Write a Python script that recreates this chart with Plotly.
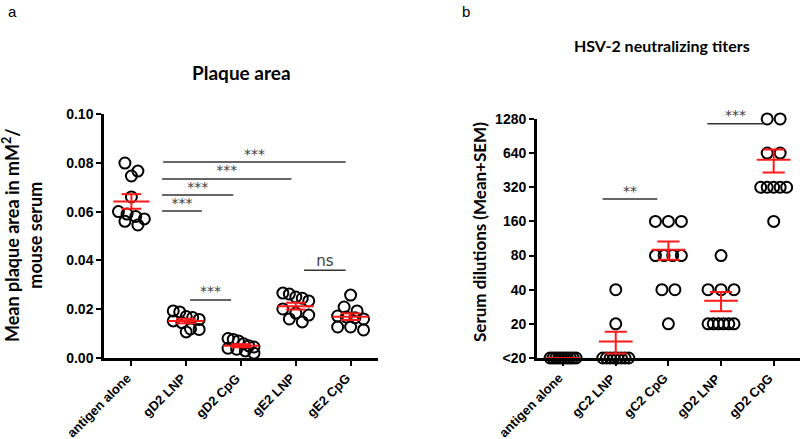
import numpy as np
import plotly.graph_objects as go

# ---------------- data ----------------
left_cats = ["antigen alone", "gD2 LNP", "gD2 CpG", "gE2 LNP", "gE2 CpG"]
area_antigen_alone = [0.0799, 0.0766, 0.0746, 0.0660, 0.0600, 0.0590, 0.0580, 0.0570, 0.0560, 0.0545]
area_gD2_LNP = [0.0193, 0.0189, 0.0170, 0.0166, 0.0158, 0.0152, 0.0145, 0.0119, 0.0117, 0.0107]
area_gD2_CpG = [0.0080, 0.0076, 0.0070, 0.0058, 0.0050, 0.0045, 0.0040, 0.0036, 0.0029, 0.0020]
area_gE2_LNP = [0.0266, 0.0262, 0.0250, 0.0245, 0.0234, 0.0201, 0.0184, 0.0176, 0.0160, 0.0148]
area_gE2_CpG = [0.0258, 0.0209, 0.0193, 0.0172, 0.0168, 0.0165, 0.0160, 0.0127, 0.0127, 0.0115]
left_groups = [area_antigen_alone, area_gD2_LNP, area_gD2_CpG, area_gE2_LNP, area_gE2_CpG]
left_ticks = [0.00, 0.02, 0.04, 0.06, 0.08, 0.10]

right_cats = ["antigen alone", "gC2 LNP", "gC2 CpG", "gD2 LNP", "gD2 CpG"]
BELOW = 10  # "<20" plotted at 10
titer_antigen_alone = [BELOW] * 10
titer_gC2_LNP = [40, 20] + [BELOW] * 8
titer_gC2_CpG = [160, 160, 160, 80, 80, 80, 80, 40, 40, 20]
titer_gD2_LNP = [80, 40, 40, 40, 20, 20, 20, 20, 20, 20]
titer_gD2_CpG = [1280, 1280, 640, 640, 320, 320, 320, 320, 320, 160]
right_groups = [titer_antigen_alone, titer_gC2_LNP, titer_gC2_CpG, titer_gD2_LNP, titer_gD2_CpG]
right_tickvals = [10, 20, 40, 80, 160, 320, 640, 1280]
right_ticktext = ["<20", "20", "40", "80", "160", "320", "640", "1280"]

# significance comparisons: (x start, x end, height, label)
left_sig = [(0.56, 1.285, 0.0602, "***"), (0.56, 1.86, 0.0668, "***"),
            (0.56, 2.92, 0.0734, "***"), (0.58, 3.91, 0.0803, "***"),
            (1.07, 1.82, 0.0238, "***"), (3.15, 3.91, 0.0360, "ns")]
right_sig = [(0.75, 1.79, 252, "**"), (2.74, 3.81, 1160, "***")]

# ---------------- helpers ----------------
def swarm(vals, ypx_per_unit, cat_px, log=False, diam=13.0, half=13.0, tol=9.0):
    v = np.log10(np.asarray(vals, float)) if log else np.asarray(vals, float)
    ypx = v * ypx_per_unit
    order = np.argsort(-ypx, kind="stable")
    rows = []
    for i in order:
        if rows and ypx[rows[-1][0]] - ypx[i] <= tol:
            rows[-1].append(i)
        else:
            rows.append([i])
    off = np.zeros(len(v))
    for r in rows:
        n = len(r)
        if n > 1:
            step = min(diam, 2 * half / (n - 1))
            for k, i in enumerate(r):
                off[i] = (k - (n - 1) / 2) * step
    return off / cat_px

fig = go.Figure()
RED = "#ff1a1a"
BLACK = "#000000"

def add_panel(groups, xa, ya, ypx_unit, cat_px, log, mean_half, cap_half):
    for gi, vals in enumerate(groups):
        off = swarm(vals, ypx_unit, cat_px, log=log)
        fig.add_trace(go.Scatter(
            x=gi + off, y=vals, mode="markers", xaxis=xa, yaxis=ya,
            marker=dict(symbol="circle-open", size=11, color=BLACK, line=dict(width=2, color=BLACK)),
            cliponaxis=False, showlegend=False, hoverinfo="skip"))
    for gi, vals in enumerate(groups):
        a = np.asarray(vals, float)
        m = a.mean()
        s = a.std(ddof=1) / np.sqrt(len(a))
        xs = [gi - mean_half, gi + mean_half, None, gi, gi, None,
              gi - cap_half, gi + cap_half, None, gi - cap_half, gi + cap_half]
        ys = [m, m, None, m - s, m + s, None, m + s, m + s, None, m - s, m - s]
        fig.add_trace(go.Scatter(x=xs, y=ys, mode="lines", xaxis=xa, yaxis=ya,
                                 line=dict(color=RED, width=2), cliponaxis=False,
                                 showlegend=False, hoverinfo="skip"))

add_panel(left_groups, "x", "y", 2440.0, 55.0, False, 0.33, 0.18)
add_panel(right_groups, "x2", "y2", 34 / np.log10(2), 52.75, True, 0.32, 0.21)

def add_sig(sigs, xa, ya):
    for x0, x1, h, lab in sigs:
        fig.add_trace(go.Scatter(x=[x0, x1], y=[h, h], mode="lines", xaxis=xa, yaxis=ya,
                                 line=dict(color="#333333", width=1.5),
                                 showlegend=False, hoverinfo="skip", cliponaxis=False))
        fig.add_trace(go.Scatter(x=[(x0 + x1) / 2], y=[h], mode="text", text=[lab],
                                 textposition="top center", xaxis=xa, yaxis=ya,
                                 textfont=dict(family="DejaVu Sans", size=15 if lab == "ns" else 14,
                                               color="#404040"),
                                 showlegend=False, hoverinfo="skip", cliponaxis=False))

add_sig(left_sig, "x", "y")
add_sig(right_sig, "x2", "y2")

FAM = "Arial, Liberation Sans, sans-serif"
tickfont = dict(family=FAM, size=14, color=BLACK, weight="bold")
catfont = dict(family=FAM, size=13, color=BLACK, weight="bold")
axis_common = dict(showline=True, linecolor=BLACK, linewidth=2.5, ticks="outside",
                   ticklen=5, tickwidth=2, tickcolor=BLACK, showgrid=False,
                   zeroline=False, automargin=False)

fig.update_layout(
    width=800, height=439, template="none",
    margin=dict(l=0, r=0, t=0, b=0),
    paper_bgcolor="white", plot_bgcolor="white", showlegend=False,
    xaxis=dict(domain=[0.13, 0.4725], range=[-0.5, 4.5], anchor="y",
               tickvals=list(range(5)), showticklabels=False, **axis_common),
    yaxis=dict(domain=[0.1845, 0.7403], range=[0, 0.1], anchor="x",
               tickvals=left_ticks, tickformat=".2f", tickfont=tickfont, **axis_common),
    xaxis2=dict(domain=[0.671, 1.0], range=[-0.5, 4.5], anchor="y2",
                tickvals=list(range(5)), showticklabels=False, **axis_common),
    yaxis2=dict(domain=[0.1845, 0.729], type="log", range=[1, np.log10(1280)], anchor="x2",
                tickvals=right_tickvals, ticktext=right_ticktext, tickfont=tickfont, **axis_common),
)

# rotated category labels, text end placed just below each tick
for xref, cats in (("x", left_cats), ("x2", right_cats)):
    for i, c in enumerate(cats):
        fig.add_annotation(text=c, x=i, xref=xref, y=1 - 369 / 439, yref="paper",
                           textangle=-45, showarrow=False, xanchor="right", yanchor="top",
                           xshift=4, font=catfont, borderpad=0)

fig.add_annotation(text="Plaque area", x=241 / 800, y=1 - 73 / 439, xref="paper", yref="paper",
                   showarrow=False, font=dict(family="Lato", size=19, color=BLACK, weight="bold"),
                   xanchor="center", yanchor="middle")
fig.add_annotation(text="HSV-2 neutralizing titers", x=662 / 800, y=1 - 45 / 439, xref="paper",
                   yref="paper", showarrow=False,
                   font=dict(family="Lato", size=16, color=BLACK, weight="bold"),
                   xanchor="center", yanchor="middle")
fig.add_annotation(text="a", x=12 / 800, y=1 - 12 / 439, xref="paper", yref="paper", showarrow=False,
                   font=dict(family=FAM, size=15, color=BLACK), xanchor="center", yanchor="middle")
fig.add_annotation(text="b", x=466 / 800, y=1 - 12 / 439, xref="paper", yref="paper", showarrow=False,
                   font=dict(family=FAM, size=15, color=BLACK), xanchor="center", yanchor="middle")
fig.add_annotation(text="Mean plaque area in mM<sup>2</sup>/<br>mouse serum", x=22 / 800, y=1 - 235 / 439,
                   xref="paper", yref="paper", showarrow=False, textangle=-90, align="center",
                   font=dict(family="Lato", size=18, color=BLACK, weight="bold"),
                   xanchor="center", yanchor="middle")
fig.add_annotation(text="Serum dilutions (Mean+SEM)", x=479 / 800, y=1 - 232 / 439,
                   xref="paper", yref="paper", showarrow=False, textangle=-90,
                   font=dict(family="Lato", size=17, color=BLACK, weight="bold"),
                   xanchor="center", yanchor="middle")

fig.write_html("out.html", config={"displayModeBar": False},
               post_script="document.body.style.margin='0';document.body.style.padding='0';"
                           "document.documentElement.style.overflow='hidden';")
